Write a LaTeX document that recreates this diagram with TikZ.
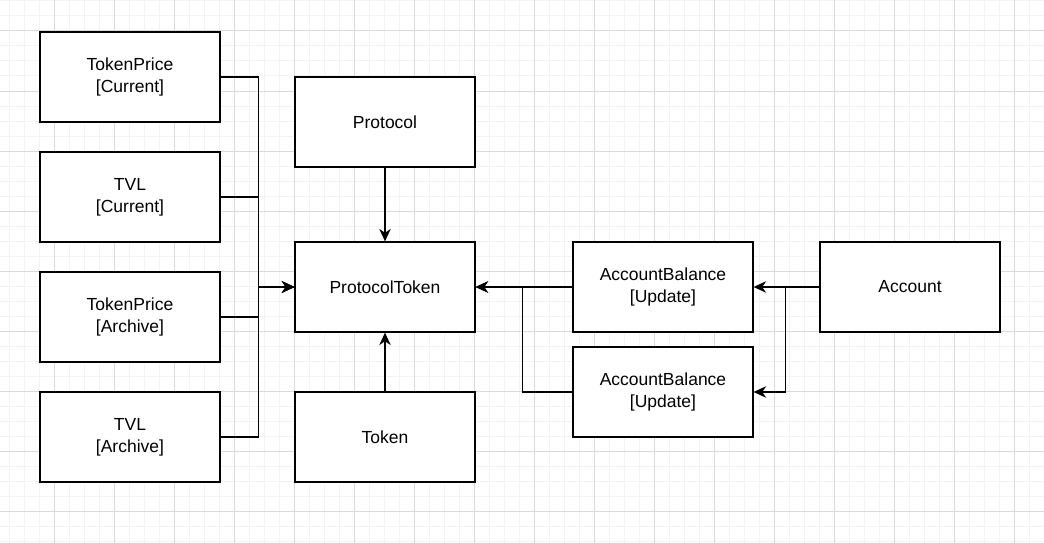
\documentclass[tikz,border=0pt]{standalone}
\usepackage{fontspec}
\setmainfont{Liberation Sans}
\usetikzlibrary{arrows.meta}
\definecolor{gridminor}{HTML}{F3F3F3}
\definecolor{gridmajor}{HTML}{DADADA}
\tikzset{
  entity/.style={draw=black, line width=1.3pt, fill=white, minimum width=180pt, minimum height=90pt, inner sep=0pt, align=center, font=\fontsize{17.5}{22}\selectfont},
  conn/.style={draw=black, line width=1.3pt, -{Stealth[length=12.5pt,width=11.5pt,inset=4pt]}},
  minorline/.style={draw=gridminor, line width=1pt},
  majorline/.style={draw=gridmajor, line width=1pt}
}
\begin{document}
\begin{tikzpicture}[x=1pt,y=-1pt]
\useasboundingbox (0,0) rectangle (1044,543);
\fill[white] (0,0) rectangle (1044,543);
% grid
\foreach \i in {0,...,69} {\draw[minorline] ({9+15*\i},0) -- ++(0,543);}
\foreach \i in {0,...,36} {\draw[minorline] (0,{1+15*\i}) -- ++(1044,0);}
\foreach \i in {-1,...,17} {\draw[majorline] ({54+60*\i},0) -- ++(0,543);}
\foreach \i in {-1,...,9} {\draw[majorline] (0,{31+60*\i}) -- ++(1044,0);}
% nodes
\node[entity] (tpc) at (130,77) {TokenPrice\\{[Current]}};
\node[entity] (tvlc) at (130,197) {TVL\\{[Current]}};
\node[entity] (tpa) at (130,317) {TokenPrice\\{[Archive]}};
\node[entity] (tvla) at (130,437) {TVL\\{[Archive]}};
\node[entity] (protocol) at (385,122) {Protocol};
\node[entity] (pt) at (385,287) {ProtocolToken};
\node[entity] (token) at (385,437) {Token};
\node[entity] (ab1) at (663,287) {AccountBalance\\{[Update]}};
\node[entity] (ab2) at (663,392) {AccountBalance\\{[Update]}};
\node[entity] (account) at (910,287) {Account};
% connectors
\draw[conn] (tpc.east) -- ++(38,0) |- (pt.west);
\draw[conn] (tvlc.east) -- ++(38,0) |- (pt.west);
\draw[conn] (tpa.east) -- ++(38,0) |- (pt.west);
\draw[conn] (tvla.east) -- ++(38,0) |- (pt.west);
\draw[conn] (protocol.south) -- (pt.north);
\draw[conn] (token.north) -- (pt.south);
\draw[conn] (ab1.west) -- (pt.east);
\draw[conn] (ab2.west) -- ++(-50,0) |- (pt.east);
\draw[conn] (account.west) -- (ab1.east);
\draw[conn] (account.west) -- ++(-34,0) |- (ab2.east);
\end{tikzpicture}
\end{document}
